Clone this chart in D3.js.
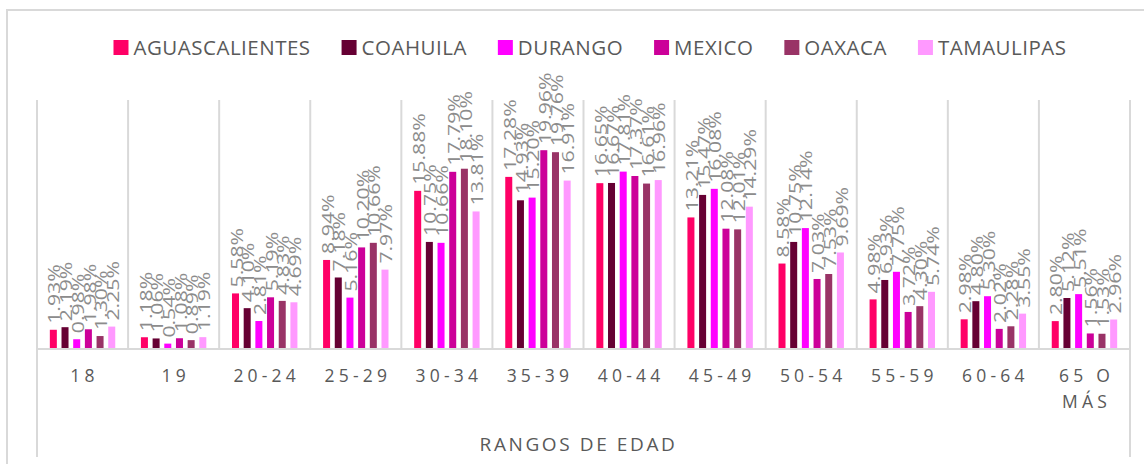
<!DOCTYPE html>
<html>
<head>
<meta charset="utf-8">
<script src="https://cdn.jsdelivr.net/npm/d3@7"></script>
<style>
  body { margin: 0; background: #fff; }
  svg { display: block; }
</style>
</head>
<body>
<svg></svg>
<script>
const ageGroups = ['18', '19', '20-24', '25-29', '30-34', '35-39', '40-44', '45-49', '50-54', '55-59', '60-64', '65 O MÁS'];
const states = ['AGUASCALIENTES', 'COAHUILA', 'DURANGO', 'MEXICO', 'OAXACA', 'TAMAULIPAS'];
const stateColors = ['#ff0066', '#660033', '#ff00ff', '#cc0099', '#993366', '#ff99ff'];

const aguascalientes = [1.93, 1.18, 5.58, 8.94, 15.88, 17.28, 16.65, 13.21, 8.58, 4.98, 2.98, 2.80];
const coahuila = [2.19, 1.06, 4.10, 7.18, 10.75, 14.93, 16.67, 15.47, 10.75, 6.93, 4.80, 5.12];
const durango = [0.98, 0.54, 2.81, 5.16, 10.66, 15.20, 17.81, 16.08, 12.14, 7.75, 5.30, 5.51];
const mexico = [1.98, 1.08, 5.19, 10.20, 17.79, 19.96, 17.37, 12.08, 7.03, 3.72, 2.02, 1.56];
const oaxaca = [1.30, 0.89, 4.83, 10.66, 18.10, 19.76, 16.61, 12.01, 7.53, 4.30, 2.28, 1.53];
const tamaulipas = [2.25, 1.19, 4.69, 7.97, 13.81, 16.91, 16.96, 14.29, 9.69, 5.74, 3.55, 2.96];

const axisTitle = 'RANGOS DE EDAD';

const seriesValues = [aguascalientes, coahuila, durango, mexico, oaxaca, tamaulipas];

const WIDTH = 1144;
const HEIGHT = 464;
const PLOT_LEFT = 37;
const PLOT_RIGHT = 1130;
const PLOT_TOP = 100;
const PLOT_BOTTOM = 349;
const FONT = '"Open Sans", "Noto Sans", sans-serif';
const GRID = '#d9d9d9';

const rows = [];
ageGroups.forEach((g, i) => {
  states.forEach((s, j) => {
    rows.push({ group: g, state: s, value: seriesValues[j][i] });
  });
});

const svg = d3.select('svg').
attr('width', WIDTH).
attr('height', HEIGHT).
attr('font-family', FONT);

// chart area border
svg.append('rect').
attr('x', 7).
attr('y', 10).
attr('width', WIDTH + 20).
attr('height', HEIGHT + 20).
attr('fill', '#fff').
attr('stroke', GRID).
attr('stroke-width', 2);

/* --SCALES-- */

const x0 = d3.scaleBand().
domain(ageGroups).
range([PLOT_LEFT, PLOT_RIGHT]);

const x1 = d3.scaleBand().
domain(states).
range([10.5, x0.bandwidth() - 10.5]).
paddingInner(0.4).
paddingOuter(0.2);

const y = d3.scaleLinear().
domain([0, 25]).
range([PLOT_BOTTOM, PLOT_TOP]);

const color = d3.scaleOrdinal().
domain(states).
range(stateColors);

/* --GRID-- */

const bounds = ageGroups.map(g => x0(g)).concat([x0.range()[1]]);
svg.append('g').
selectAll('line').
data(bounds).
enter().
append('line').
attr('x1', d => d).
attr('x2', d => d).
attr('y1', PLOT_TOP).
attr('y2', (d, i) => i == 0 || i == bounds.length - 1 ? 457 : PLOT_BOTTOM).
attr('stroke', GRID).
attr('stroke-width', 2);

/* --BARS-- */

svg.append('g').
selectAll('rect').
data(rows).
enter().
append('rect').
attr('x', d => x0(d.group) + x1(d.state)).
attr('y', d => y(d.value)).
attr('width', x1.bandwidth()).
attr('height', d => y(0) - y(d.value)).
attr('fill', d => color(d.state));

// baseline
svg.append('line').
attr('x1', PLOT_LEFT).
attr('x2', PLOT_RIGHT).
attr('y1', y(0)).
attr('y2', y(0)).
attr('stroke', GRID).
attr('stroke-width', 2);

/* --DATA LABELS-- */

// labels; glyphs are stretched along the text direction
svg.append('g').
attr('font-size', 17).
attr('fill', '#8c8c8c').
selectAll('text').
data(rows).
enter().
append('text').
attr('transform', d => `translate(${x0(d.group) + x1(d.state) + x1.bandwidth() / 2 + 1}, ${y(d.value) - 6}) rotate(-90) scale(1.25, 1)`).
attr('dy', '0.36em').
text(d => d.value.toFixed(2) + '%');

/* --AXIS-- */

const xAxis = d3.axisBottom(x0).
tickSize(0).
tickPadding(0);

const axisG = svg.append('g').
attr('transform', `translate(0, ${y(0)})`).
call(xAxis);

axisG.select('.domain').remove();
axisG.selectAll('text').
attr('font-family', FONT).
attr('font-size', 17.5).
attr('letter-spacing', 4.2).
attr('fill', '#595959').
attr('y', 33).
attr('dy', 0).
call(wrap, x0.bandwidth() - 6);

function wrap(selection, width) {
  selection.each(function () {
    const t = d3.select(this);
    const words = t.text().split(' ');
    t.text(null);
    let line = [];
    let tspan = t.append('tspan').attr('x', 2).attr('y', 33);
    let lineNo = 0;
    words.forEach(w => {
      line.push(w);
      tspan.text(line.join(' '));
      if (tspan.node().getComputedTextLength() > width && line.length > 1) {
        line.pop();
        tspan.text(line.join(' '));
        line = [w];
        lineNo++;
        tspan = t.append('tspan').attr('x', 2).attr('y', 33 + lineNo * 26).text(w);
      }
    });
  });
}

svg.append('text').
attr('x', (PLOT_LEFT + PLOT_RIGHT) / 2 - 5).
attr('y', 451).
attr('text-anchor', 'middle').
attr('font-size', 19).
attr('letter-spacing', 2.6).
attr('fill', '#595959').
text(axisTitle);

/* --LEGEND-- */

const legendG = svg.append('g').
attr('font-size', 20.5).
attr('letter-spacing', 0.5).
attr('fill', '#595959');

const items = legendG.selectAll('g').
data(states).
enter().
append('g');

items.append('rect').
attr('width', 15).
attr('height', 15).
attr('y', 40).
attr('fill', d => color(d));

items.append('text').
attr('x', 20).
attr('y', 55).
text(d => d);

let cursor = 0;
items.each(function () {
  const g = d3.select(this);
  g.attr('transform', `translate(${cursor}, 0)`);
  cursor += 20 + g.select('text').node().getComputedTextLength() + 31;
});
const legendWidth = cursor - 31;
legendG.attr('transform', `translate(${590 - legendWidth / 2}, 0)`);
</script>
</body>
</html>
